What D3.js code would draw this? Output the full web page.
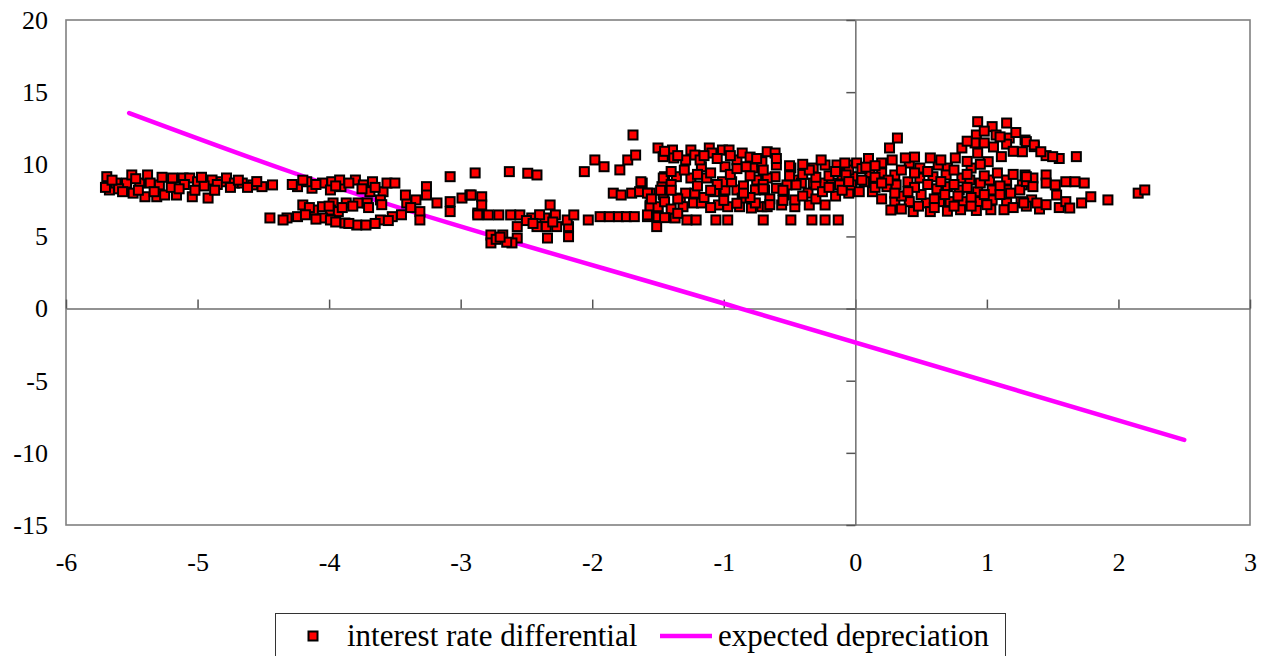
<!DOCTYPE html>
<html>
<head>
<meta charset="utf-8">
<script src="https://cdn.jsdelivr.net/npm/d3@7"></script>
<style>
  html, body { margin: 0; padding: 0; background: #fff; }
  svg { display: block; }
  text { font-family: "Liberation Serif", "Times New Roman", "DejaVu Serif", serif; fill: #000; }
</style>
</head>
<body>
<svg id="chart" width="1272" height="656"></svg>
<script>
// ---- data ----
const xTicks = [-6, -5, -4, -3, -2, -1, 0, 1, 2, 3];
const yTicks = [-15, -10, -5, 0, 5, 10, 15, 20];
const seriesNames = ["interest rate differential", "expected depreciation"];

// expected depreciation line [x, y]
const depreciationLine = [
  [-5.52, 13.55], [-4.30, 9.5], [-0.87, 0.0], [2.50, -9.1]
];

// interest rate differential scatter [x, y]
const diffLeft = [
  [-5.69,9.14],[-5.67,8.22],[-5.62,8.70],[-5.54,8.70],[-5.50,9.26],[-5.49,8.00],[-5.44,8.70],
  [-5.40,7.75],[-5.38,9.26],[-5.36,8.70],[-5.31,7.75],[-5.29,8.57],[-5.25,7.87],[-5.19,9.05],
  [-5.16,7.87],[-5.11,9.05],[-5.06,9.05],[-5.04,7.75],[-5.00,8.79],[-4.92,7.66],[-4.89,8.91],
  [-4.82,8.79],[-4.78,9.05],[-4.72,8.70],[-4.66,8.70],[-4.58,8.57],[-4.51,8.45],[-4.43,8.57],
  [-5.70,8.40],[-5.60,8.30],[-5.45,8.20],[-5.20,8.40],[-5.10,8.60],[-4.95,8.50],[-4.85,8.60],
  [-5.65,8.90],[-5.57,8.10],[-5.47,9.00],[-5.33,8.10],[-5.27,9.10],[-5.14,8.30],[-5.02,8.20],
  [-4.97,9.10],[-4.87,8.20],[-4.75,8.40],[-4.69,8.90],[-4.62,8.40],[-4.55,8.80]
];
const diffMidLeft = [
  [-4.24,8.45],[-4.13,8.34],[-4.17,8.79],[-4.05,8.70],[-3.98,8.79],[-3.99,8.22],[-3.91,8.45],
  [-3.92,8.91],[-3.80,8.91],[-3.74,8.57],[-3.67,8.79],[-3.69,8.10],[-3.59,8.10],[-3.56,8.70],
  [-3.50,8.70],[-3.61,7.53],[-3.78,7.32],[-3.71,7.32],[-3.87,7.32],[-3.97,7.32],[-4.05,7.06],
  [-4.20,7.18],[-4.12,6.83],[-3.99,6.83],[-3.93,6.72],[-4.32,6.28],[-4.24,6.37],[-4.05,6.28],
  [-3.99,6.14],[-3.88,5.93],[-3.79,5.79],[-3.72,5.79],[-3.61,6.14],[-3.52,6.37],[-3.31,6.72],
  [-3.31,6.14],[-3.41,7.32],[-3.42,7.87],[-3.34,7.53],[-3.26,8.45],[-3.26,7.87],[-3.18,7.32],
  [-3.08,7.41],[-3.08,6.72],[-2.99,7.66],[-2.93,7.87],[-2.87,6.62],[-3.08,9.14],[-2.89,9.40],
  [-4.45,6.28],[-4.35,6.14],
  [-4.28,8.60],[-4.20,8.90],[-4.10,8.60],[-3.95,8.50],[-3.85,8.70],[-3.75,8.30],[-3.65,8.40],
  [-4.15,7.00],[-4.00,7.10],[-3.90,7.00],[-3.82,7.10],[-3.70,7.00],[-3.60,7.20],[-4.18,6.50],
  [-4.10,6.20],[-3.95,6.00],[-3.85,5.90],[-3.65,5.90],[-3.55,6.10],[-3.45,6.50],[-3.38,7.00]
];
const diffMid = [
  [-2.63,9.49],[-2.49,9.38],[-2.42,9.26],[-2.06,9.49],[-1.98,10.30],[-1.91,9.83],[-1.79,9.61],
  [-1.73,10.30],[-1.67,10.64],[-1.46,10.64],[-1.45,9.14],[-2.92,7.87],[-2.84,7.75],[-2.84,7.18],
  [-2.87,6.49],[-2.79,6.49],[-2.71,6.49],[-2.62,6.49],[-2.55,6.49],[-2.46,6.28],[-2.36,6.28],
  [-2.32,7.18],[-2.28,6.49],[-2.27,5.68],[-2.35,5.68],[-2.42,5.68],[-2.57,5.68],[-2.18,5.68],
  [-2.19,6.14],[-2.14,6.49],[-2.03,6.14],[-1.94,6.37],[-1.87,6.37],[-1.80,6.37],[-1.74,6.37],
  [-1.68,6.37],[-1.58,6.37],[-1.50,6.37],[-1.50,6.97],[-1.56,7.18],[-1.51,5.68],[-1.84,8.00],
  [-1.78,7.87],[-1.70,8.00],[-1.64,8.10],[-1.56,8.00],[-1.46,8.00],[-1.47,8.45],[-1.62,8.70],
  [-1.46,9.05],[-2.77,5.10],[-2.68,5.10],[-2.57,4.89],[-2.34,4.89],[-2.18,4.98],[-2.77,4.55],
  [-2.61,4.55],[-1.69,12.03],[-2.73,4.80],[-2.65,4.60],[-2.70,4.95],
  [-2.50,6.10],[-2.40,6.50],[-2.30,6.00],[-2.45,5.90]
];
const diffMidRight = [
  [-1.50,11.13],[-1.46,10.53],[-1.39,10.99],[-1.38,10.44],[-1.29,10.30],[-1.25,10.99],[-1.22,10.64],
  [-1.17,9.83],[-1.18,10.30],[-1.11,11.13],[-1.09,10.78],[-1.01,10.99],[-0.99,9.83],[-0.96,10.99],
  [-0.90,10.30],[-0.86,10.78],[-0.78,9.74],[-0.71,10.18],[-0.67,10.87],[-0.61,10.78],[-0.60,9.95],
  [-0.61,9.14],[-0.67,9.05],[-0.75,8.91],[-0.83,9.83],[-0.49,9.74],[-0.45,8.91],[-0.32,9.74],
  [-0.23,9.95],[-0.14,9.95],[-0.06,9.95],[-0.26,10.30],[-0.10,9.26],[-0.02,9.14],[-0.18,8.70],
  [-0.25,8.70],[-0.32,8.70],[-0.41,8.70],[-0.52,8.57],[-0.45,8.57],[-0.54,7.87],[-0.60,8.34],
  [-0.69,8.22],[-0.76,8.22],[-0.90,8.22],[-0.99,8.22],[-1.07,8.10],[-0.94,8.79],[-1.01,8.79],
  [-1.13,9.05],[-1.25,9.05],[-1.36,9.14],[-1.63,8.79],[-1.58,8.00],[-1.46,7.87],[-1.33,7.66],
  [-1.29,8.00],[-1.22,8.00],[-1.23,7.32],[-1.17,7.32],[-1.31,7.06],[-1.56,7.06],[-1.50,7.06],
  [-1.58,6.49],[-1.37,6.28],[-1.28,6.14],[-1.21,6.14],[-1.06,6.14],[-0.97,6.14],[-1.04,7.18],
  [-0.97,7.06],[-0.88,7.06],[-0.79,6.97],[-0.71,7.06],[-0.67,7.06],[-0.56,7.18],[-0.46,7.06],
  [-0.35,7.18],[-0.23,7.18],[-0.70,6.14],[-0.49,6.14],[-0.33,6.14],[-0.23,6.14],[-0.13,6.14],
  [-0.36,8.00],[-0.30,8.57],[-0.12,8.57],[-0.03,8.45],[-0.76,7.32],[-0.86,7.66],[-0.46,7.53],
  [-1.20,8.50],[-1.05,8.60],[-0.85,8.50],[-0.70,8.60],[-0.50,9.20],[-0.40,9.30],[-0.30,9.10],
  [-0.20,9.20],[-0.15,9.50],[-0.05,9.60],[-0.35,9.60],[-0.95,9.30],[-0.80,9.20],[-1.10,9.40],
  [-1.30,9.60],[-1.40,8.60],[-1.35,7.60],[-1.15,7.70],[-1.00,7.50],[-0.80,7.70],[-0.65,7.60],
  [-0.55,7.50],[-0.30,7.60],[-0.15,7.80],[-0.05,8.00],[-0.25,8.10],[-1.45,7.40],[-1.55,7.60],
  [-0.60,10.40],[-0.80,10.50],[-1.05,10.40],
  [-1.45,10.90],[-1.35,10.60],[-1.15,10.60],[-0.95,10.60],[-0.75,10.40],[-0.50,9.90],[-0.40,10.00],
  [-0.70,9.60],[-0.90,9.70],[-1.20,9.30],[-1.40,9.50],[-1.48,8.20],[-1.40,8.20],[-1.10,8.20],
  [-0.85,8.00],[-0.70,8.30],[-0.55,8.20],[-0.20,8.40],[-0.10,8.20],[-0.40,7.80],[-0.65,7.20],
  [-0.90,7.30],[-1.10,7.00],[-1.40,6.90],[-1.35,6.60],[-1.45,6.30]
];
const diffRight = [
  [0.32,11.82],[0.26,11.13],[0.93,12.95],[1.04,12.61],[1.15,12.86],[0.92,12.03],[1.07,12.03],
  [1.17,11.82],[0.81,11.13],[0.91,11.48],[0.98,11.48],[0.93,10.78],[1.01,10.18],[1.11,10.53],
  [1.27,10.87],[1.29,11.68],[1.36,11.22],[0.76,10.44],[0.88,9.74],[0.70,9.74],[0.63,9.95],
  [0.57,10.44],[0.49,9.74],[0.41,10.09],[0.38,10.44],[0.28,10.30],[0.20,10.09],[0.30,9.26],
  [0.20,9.40],[0.11,9.40],[0.01,10.09],[-0.08,10.09],[-0.07,9.26],[0.07,8.79],[-0.03,8.57],
  [0.24,8.45],[0.31,8.57],[0.40,8.79],[0.49,9.05],[0.59,9.14],[0.69,9.26],[0.81,9.05],
  [0.87,8.91],[1.02,8.91],[1.15,8.91],[1.27,8.57],[1.35,9.05],[1.29,9.26],[0.70,8.45],
  [0.79,8.22],[0.93,8.10],[1.04,8.22],[1.15,8.22],[1.25,8.22],[0.30,7.41],[0.41,7.41],
  [0.54,7.32],[0.64,7.41],[0.72,7.41],[0.82,7.41],[0.93,7.41],[1.04,7.53],[1.15,7.32],
  [1.26,7.41],[1.34,7.53],[0.44,6.72],[0.57,6.72],[0.27,6.83],[0.13,8.10],[0.03,8.10],
  [0.70,6.75],[0.80,6.85],[0.92,6.80],[1.03,6.85],[1.13,6.85],[1.40,6.90],[1.55,7.00],
  [0.10,10.40],[0.05,9.70],[0.15,9.90],[0.45,9.40],[0.55,8.60],[0.62,8.30],[0.75,8.60],
  [0.85,8.40],[0.95,8.70],[1.10,8.50],[0.35,7.80],[0.50,7.90],[0.60,7.60],[0.20,7.60],[0.15,8.40],
  [0.05,8.90],[0.15,9.10],[0.25,8.90],[0.35,9.60],[0.45,8.40],[0.55,9.50],[0.65,8.80],
  [0.75,9.60],[0.85,9.30],[0.98,9.20],[1.08,9.40],[1.20,9.30],[1.30,8.80],[1.18,8.00],
  [1.10,7.90],[0.98,7.90],[0.88,7.70],[0.78,7.80],[0.68,7.90],[0.40,8.10],[0.30,8.00],
  [0.48,7.10],[0.60,7.00],[0.75,7.10],[0.88,7.10],[1.00,7.20],[1.20,7.00],[1.30,7.10],
  [1.45,7.20],[0.35,6.90],[0.85,10.20],[0.95,10.00],[1.05,11.20],[1.15,11.40],[1.20,10.90],
  [1.10,11.90],[0.85,11.60],[0.98,12.30],[1.22,12.20],[1.45,10.60],[1.55,10.40],[0.65,10.30],
  [0.45,10.50],[0.08,9.80],[0.20,8.70],[-0.05,8.80]
];
const diffFarRight = [
  [1.30,11.57],[1.36,11.34],[1.41,10.87],[1.50,10.53],[1.68,10.53],[1.30,9.14],[1.35,8.45],
  [1.45,9.26],[1.45,8.70],[1.52,8.57],[1.60,8.79],[1.67,8.79],[1.74,8.70],[1.53,7.87],
  [1.60,7.41],[1.72,7.32],[1.79,7.75],[1.92,7.53],[2.15,8.00],[2.20,8.22],[1.28,7.32],
  [1.38,7.32],[1.63,6.97]
];
const rateDiffPoints = [].concat(diffLeft, diffMidLeft, diffMid, diffMidRight, diffRight, diffFarRight);

// ---- drawing ----
const svg = d3.select("#chart");
const x = d3.scaleLinear().domain([-6, 3]).range([66, 1250]);
const y = d3.scaleLinear().domain([-15, 20]).range([525, 20]);
const axisColor = "#6e6e6e";
const serif = "'Liberation Serif', 'Times New Roman', 'DejaVu Serif', serif";

// plot frame
svg.append("rect")
  .attr("x", x(-6)).attr("y", y(20))
  .attr("width", x(3) - x(-6)).attr("height", y(-15) - y(20))
  .attr("fill", "none").attr("stroke", "#808080").attr("stroke-width", 1.6);

// horizontal axis through y = 0 with ticks pointing up
const xAxisG = svg.append("g")
  .attr("transform", `translate(0,${y(0)})`)
  .call(d3.axisTop(x).tickValues(xTicks).tickSize(9).tickSizeOuter(0).tickFormat(""));
// vertical axis through x = 0 with ticks pointing left
const yAxisG = svg.append("g")
  .attr("transform", `translate(${x(0)},0)`)
  .call(d3.axisLeft(y).tickValues(yTicks).tickSize(9).tickSizeOuter(0).tickFormat(""));
[xAxisG, yAxisG].forEach(g => {
  g.select(".domain").attr("stroke", axisColor).attr("stroke-width", 1.5);
  g.selectAll(".tick line").attr("stroke", "#555").attr("stroke-width", 1.5);
});

// tick labels at the low side of the plot
const xLab = svg.append("g")
  .attr("transform", `translate(0,${y(-15)})`)
  .call(d3.axisBottom(x).tickValues(xTicks).tickSize(0).tickPadding(28).tickFormat(d => String(d)));
xLab.select(".domain").remove();
xLab.selectAll("text").style("font-family", serif).attr("font-size", 26).attr("fill", "#000");

const yLab = svg.append("g")
  .attr("transform", `translate(${x(-6)},0)`)
  .call(d3.axisLeft(y).tickValues(yTicks).tickSize(0).tickPadding(18).tickFormat(d => String(d)));
yLab.select(".domain").remove();
yLab.selectAll("text").style("font-family", serif).attr("font-size", 26).attr("fill", "#000");

// expected depreciation line
svg.append("path")
  .datum(depreciationLine)
  .attr("fill", "none")
  .attr("stroke", "#ff00ff")
  .attr("stroke-width", 4.5)
  .attr("stroke-linecap", "round")
  .attr("d", d3.line().x(d => x(d[0])).y(d => y(d[1])).curve(d3.curveMonotoneX));

// scatter squares
const sz = 9;
svg.append("g").selectAll("rect")
  .data(rateDiffPoints)
  .join("rect")
  .attr("x", d => x(d[0]) - sz / 2)
  .attr("y", d => y(d[1]) - sz / 2)
  .attr("width", sz).attr("height", sz)
  .attr("fill", "#ff0000")
  .attr("stroke", "#000")
  .attr("stroke-width", 2);

// legend
const lg = svg.append("g");
lg.append("rect")
  .attr("x", 275.5).attr("y", 613.5).attr("width", 730).attr("height", 60)
  .attr("fill", "#fff").attr("stroke", "#333").attr("stroke-width", 1);
lg.append("rect")
  .attr("x", 313 - sz / 2).attr("y", 636 - sz / 2).attr("width", sz).attr("height", sz)
  .attr("fill", "#ff0000").attr("stroke", "#000").attr("stroke-width", 2);
lg.append("text").attr("x", 347).attr("y", 646).attr("font-size", 31)
  .style("font-family", serif).text(seriesNames[0]);
lg.append("line")
  .attr("x1", 660).attr("x2", 712).attr("y1", 636).attr("y2", 636)
  .attr("stroke", "#ff00ff").attr("stroke-width", 4.5);
lg.append("text").attr("x", 718).attr("y", 646).attr("font-size", 31)
  .style("font-family", serif).text(seriesNames[1]);
</script>
</body>
</html>
